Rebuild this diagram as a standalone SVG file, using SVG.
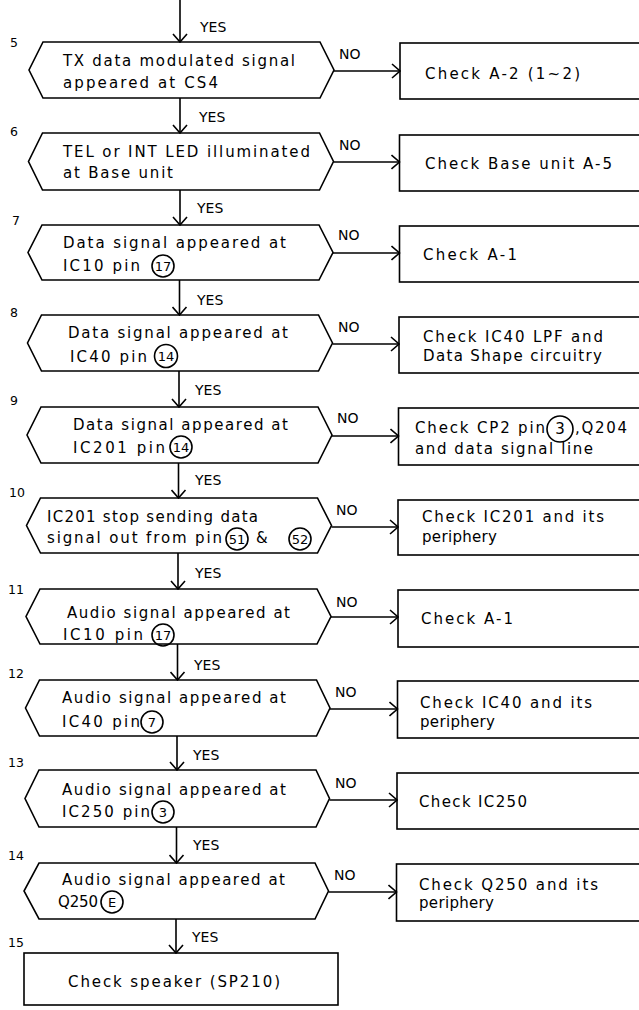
<svg xmlns="http://www.w3.org/2000/svg" width="639" height="1010" viewBox="0 0 639 1010">
<style>
.s{fill:none;stroke:#000;stroke-width:1.6}
.t{font-family:"DejaVu Sans","Liberation Sans",sans-serif;font-size:15px;fill:#000}
.n{font-family:"DejaVu Sans","Liberation Sans",sans-serif;font-size:12.5px;fill:#000}
.c{font-family:"DejaVu Sans","Liberation Sans",sans-serif;font-size:13px;fill:#000;text-anchor:middle}
.l{font-family:"DejaVu Sans","Liberation Sans",sans-serif;font-size:14px;fill:#000}
</style>
<defs>
<marker id="ah" viewBox="0 0 10 16" markerWidth="10" markerHeight="16" refX="9" refY="8" orient="auto" markerUnits="userSpaceOnUse">
<path d="M1,1 L9,8 L1,15" fill="none" stroke="#000" stroke-width="1.6"/>
</marker>
</defs>
<rect width="639" height="1010" fill="#fff"/>

<g id="connectors" class="s" marker-end="url(#ah)">
<line x1="180" y1="0" x2="180" y2="42"/>
<line x1="180" y1="98" x2="180" y2="133"/>
<line x1="180" y1="190" x2="180" y2="225"/>
<line x1="179.5" y1="280" x2="179.5" y2="315"/>
<line x1="179" y1="371" x2="179" y2="407"/>
<line x1="178.5" y1="463" x2="178.5" y2="498"/>
<line x1="178" y1="553" x2="178" y2="589"/>
<line x1="177.5" y1="644" x2="177.5" y2="680"/>
<line x1="177" y1="736" x2="177" y2="770"/>
<line x1="176.5" y1="827" x2="176.5" y2="863"/>
<line x1="176" y1="919" x2="176" y2="953"/>
<line x1="334" y1="71" x2="400" y2="71"/>
<line x1="333.5" y1="162" x2="399.5" y2="162"/>
<line x1="333" y1="253" x2="399.5" y2="253"/>
<line x1="332.5" y1="344" x2="399" y2="344"/>
<line x1="332" y1="436" x2="398.5" y2="436"/>
<line x1="331.5" y1="527" x2="398" y2="527"/>
<line x1="331" y1="617" x2="398" y2="617"/>
<line x1="330" y1="709" x2="397.5" y2="709"/>
<line x1="329.5" y1="800" x2="397" y2="800"/>
<line x1="328.5" y1="892" x2="396.5" y2="892"/>
</g>

<g id="labels">
<text class="l" x="200" y="32">YES</text>
<text class="l" x="199" y="122">YES</text>
<text class="l" x="197" y="213">YES</text>
<text class="l" x="197" y="305">YES</text>
<text class="l" x="195" y="395">YES</text>
<text class="l" x="195" y="485">YES</text>
<text class="l" x="195" y="578">YES</text>
<text class="l" x="194" y="670">YES</text>
<text class="l" x="193" y="760">YES</text>
<text class="l" x="193" y="850">YES</text>
<text class="l" x="192" y="942">YES</text>
<text class="l" x="339" y="59">NO</text>
<text class="l" x="339" y="150">NO</text>
<text class="l" x="338" y="240">NO</text>
<text class="l" x="338" y="332">NO</text>
<text class="l" x="337" y="423">NO</text>
<text class="l" x="336" y="515">NO</text>
<text class="l" x="336" y="607">NO</text>
<text class="l" x="335" y="697">NO</text>
<text class="l" x="335" y="788">NO</text>
<text class="l" x="334" y="880">NO</text>
</g>

<g id="step5">
<text class="n" x="10" y="47">5</text>
<polygon class="s" points="43,42 320,42 334,70 320,98 43,98 29,70"/>
<text class="t" x="63" y="66" textLength="232" lengthAdjust="spacing">TX data modulated signal</text>
<text class="t" x="63" y="88" textLength="155" lengthAdjust="spacing">appeared at CS4</text>
</g>
<g id="box5">
<rect class="s" x="400" y="43" width="260" height="56"/>
<text class="t" x="425" y="79" textLength="155" lengthAdjust="spacing">Check A-2 (1~2)</text>
</g>

<g id="step6">
<text class="n" x="10" y="136">6</text>
<polygon class="s" points="42.5,133 319.5,133 333.5,161.5 319.5,190 42.5,190 28.5,161.5"/>
<text class="t" x="63" y="157" textLength="247" lengthAdjust="spacing">TEL or INT LED illuminated</text>
<text class="t" x="63" y="178" textLength="110" lengthAdjust="spacing">at Base unit</text>
</g>
<g id="box6">
<rect class="s" x="399.5" y="135" width="260" height="56"/>
<text class="t" x="425" y="169" textLength="187" lengthAdjust="spacing">Check Base unit A-5</text>
</g>

<g id="step7">
<text class="n" x="12" y="225">7</text>
<polygon class="s" points="42,225 319,225 333,252.5 319,280 42,280 28,252.5"/>
<text class="t" x="63" y="248" textLength="223" lengthAdjust="spacing">Data signal appeared at</text>
<text class="t" x="63" y="271" textLength="77" lengthAdjust="spacing">IC10 pin</text>
<circle class="s" cx="163" cy="266" r="11"/>
<text class="c" x="163" y="271">17</text>
</g>
<g id="box7">
<rect class="s" x="399.5" y="226" width="260" height="56"/>
<text class="t" x="423" y="260" textLength="94" lengthAdjust="spacing">Check A-1</text>
</g>

<g id="step8">
<text class="n" x="10" y="317">8</text>
<polygon class="s" points="41.5,315 318.5,315 332.5,343 318.5,371 41.5,371 27.5,343"/>
<text class="t" x="68" y="338" textLength="220" lengthAdjust="spacing">Data signal appeared at</text>
<text class="t" x="70" y="362" textLength="77" lengthAdjust="spacing">IC40 pin</text>
<circle class="s" cx="166" cy="356" r="11.5"/>
<text class="c" x="166" y="361">14</text>
</g>
<g id="box8">
<rect class="s" x="399" y="317" width="260" height="56"/>
<text class="t" x="423" y="342" textLength="180" lengthAdjust="spacing">Check IC40 LPF and</text>
<text class="t" x="423" y="361" textLength="179" lengthAdjust="spacing">Data Shape circuitry</text>
</g>

<g id="step9">
<text class="n" x="10" y="405">9</text>
<polygon class="s" points="41,407 318,407 332,435 318,463 41,463 27,435"/>
<text class="t" x="73" y="430" textLength="215" lengthAdjust="spacing">Data signal appeared at</text>
<text class="t" x="73" y="453" textLength="92" lengthAdjust="spacing">IC201 pin</text>
<circle class="s" cx="181" cy="447" r="11"/>
<text class="c" x="181" y="452">14</text>
</g>
<g id="box9">
<rect class="s" x="398.5" y="408" width="260" height="57"/>
<text class="t" x="415" y="433" textLength="130" lengthAdjust="spacing">Check CP2 pin</text>
<circle class="s" cx="560" cy="429" r="13"/>
<text class="t" x="560" y="434" text-anchor="middle">3</text>
<text class="t" x="575" y="433" textLength="52" lengthAdjust="spacing">,Q204</text>
<text class="t" x="415" y="454" textLength="178" lengthAdjust="spacing">and data signal line</text>
</g>

<g id="step10">
<text class="n" x="9" y="497">10</text>
<polygon class="s" points="40.5,498 317.5,498 331.5,525.5 317.5,553 40.5,553 26.5,525.5"/>
<text class="t" x="47" y="522" textLength="211" lengthAdjust="spacing">IC201 stop sending data</text>
<text class="t" x="47" y="543" textLength="175" lengthAdjust="spacing">signal out from pin</text>
<circle class="s" cx="237" cy="539" r="11"/>
<text class="c" x="237" y="544">51</text>
<text class="t" x="256" y="543">&amp;</text>
<circle class="s" cx="300" cy="539" r="11"/>
<text class="c" x="300" y="544">52</text>
</g>
<g id="box10">
<rect class="s" x="398" y="500" width="260" height="55"/>
<text class="t" x="422" y="522" textLength="182" lengthAdjust="spacing">Check IC201 and its</text>
<text class="t" x="422" y="542" textLength="75" lengthAdjust="spacing">periphery</text>
</g>

<g id="step11">
<text class="n" x="8" y="594">11</text>
<polygon class="s" points="40,589 317,589 331,616.5 317,644 40,644 26,616.5"/>
<text class="t" x="67" y="618" textLength="223" lengthAdjust="spacing">Audio signal appeared at</text>
<text class="t" x="63" y="640" textLength="80" lengthAdjust="spacing">IC10 pin</text>
<circle class="s" cx="163" cy="635" r="11"/>
<text class="c" x="163" y="640">17</text>
</g>
<g id="box11">
<rect class="s" x="398" y="590" width="260" height="57"/>
<text class="t" x="421" y="624" textLength="92" lengthAdjust="spacing">Check A-1</text>
</g>

<g id="step12">
<text class="n" x="8" y="678">12</text>
<polygon class="s" points="39.5,680 316.5,680 330,708 316.5,736 39.5,736 25.5,708"/>
<text class="t" x="62" y="703" textLength="224" lengthAdjust="spacing">Audio signal appeared at</text>
<text class="t" x="62" y="727" textLength="78" lengthAdjust="spacing">IC40 pin</text>
<circle class="s" cx="152" cy="722" r="11"/>
<text class="c" x="152" y="727">7</text>
</g>
<g id="box12">
<rect class="s" x="397.5" y="681" width="260" height="57"/>
<text class="t" x="420" y="708" textLength="172" lengthAdjust="spacing">Check IC40 and its</text>
<text class="t" x="420" y="727" textLength="75" lengthAdjust="spacing">periphery</text>
</g>

<g id="step13">
<text class="n" x="8" y="767">13</text>
<polygon class="s" points="39,770 316,770 329.5,798.5 316,827 39,827 25,798.5"/>
<text class="t" x="62" y="795" textLength="224" lengthAdjust="spacing">Audio signal appeared at</text>
<text class="t" x="62" y="817" textLength="88" lengthAdjust="spacing">IC250 pin</text>
<circle class="s" cx="163" cy="812" r="11"/>
<text class="c" x="163" y="817">3</text>
</g>
<g id="box13">
<rect class="s" x="397" y="773" width="260" height="56"/>
<text class="t" x="419" y="807" textLength="108" lengthAdjust="spacing">Check IC250</text>
</g>

<g id="step14">
<text class="n" x="8" y="860">14</text>
<polygon class="s" points="39,863 315,863 328.5,891 315,919 39,919 24,891"/>
<text class="t" x="62" y="885" textLength="223" lengthAdjust="spacing">Audio signal appeared at</text>
<text class="t" x="58" y="907" textLength="40" lengthAdjust="spacing">Q250</text>
<circle class="s" cx="112" cy="902" r="11"/>
<text class="c" x="112" y="907">E</text>
</g>
<g id="box14">
<rect class="s" x="396.5" y="864" width="260" height="57"/>
<text class="t" x="419" y="890" textLength="179" lengthAdjust="spacing">Check Q250 and its</text>
<text class="t" x="419" y="908" textLength="75" lengthAdjust="spacing">periphery</text>
</g>

<g id="step15">
<text class="n" x="8" y="947">15</text>
<rect class="s" x="24" y="953" width="314" height="52"/>
<text class="t" x="68" y="987" textLength="212" lengthAdjust="spacing">Check speaker (SP210)</text>
</g>
</svg>
